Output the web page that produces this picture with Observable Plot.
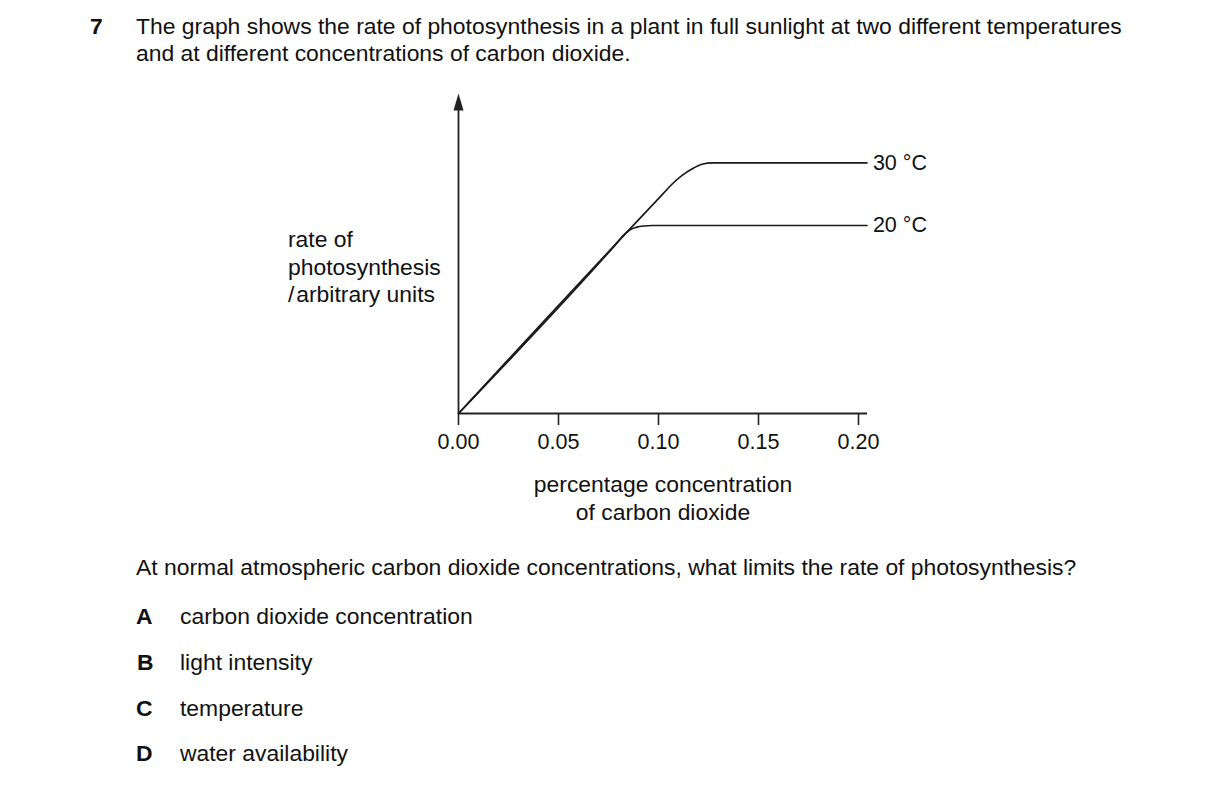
<!DOCTYPE html>
<html>
<head>
<meta charset="utf-8">
<script src="https://cdn.jsdelivr.net/npm/d3@7"></script>
<script src="https://cdn.jsdelivr.net/npm/@observablehq/plot@0.6"></script>
<style>
  html, body { margin: 0; padding: 0; background: #fff; }
  #page { position: relative; width: 1216px; height: 788px; overflow: hidden;
          font-family: "Liberation Sans", Arial, sans-serif; font-size: 22.9px; color: #111; }
  .t { position: absolute; line-height: 28px; white-space: nowrap; }
  .b { font-weight: bold; }
  #chart { position: absolute; left: 0; top: 0; }
</style>
</head>
<body>
<div id="page">
  <div class="t b" style="left:90px; top:12px;">7</div>
  <div class="t" style="left:136px; top:12px;">The graph shows the rate of photosynthesis in a plant in full sunlight at two different temperatures</div>
  <div class="t" style="left:136px; top:39px;">and at different concentrations of carbon dioxide.</div>

  <div id="chart"></div>

  <div class="t" style="left:288px; top:226px; line-height:27.5px;">rate of<br>photosynthesis<br>/&#8202;arbitrary units</div>
  <div class="t" style="left:463px; width:400px; text-align:center; top:470px;">percentage concentration</div>
  <div class="t" style="left:463px; width:400px; text-align:center; top:498px;">of carbon dioxide</div>

  <div class="t" style="left:136px; top:553px;">At normal atmospheric carbon dioxide concentrations, what limits the rate of photosynthesis?</div>

  <div class="t b" style="left:136px; top:602px;">A</div>
  <div class="t" style="left:180px; top:602px;">carbon dioxide concentration</div>
  <div class="t b" style="left:137px; top:648px;">B</div>
  <div class="t" style="left:180px; top:648px;">light intensity</div>
  <div class="t b" style="left:136px; top:694px;">C</div>
  <div class="t" style="left:180px; top:694px;">temperature</div>
  <div class="t b" style="left:136px; top:739px;">D</div>
  <div class="t" style="left:180px; top:739px;">water availability</div>
</div>
<script>
// CO2 concentration (%) and rate (arbitrary units, 0–100 scale)
const co2_20 = [0, 0.078, 0.0835, 0.0858, 0.0888, 0.0925, 0.097, 0.2042];
const rate_20 = [0, 52.4, 56.3, 57.4, 58.15, 58.6, 58.75, 58.75];
const co2_30 = [0, 0.102, 0.107, 0.1118, 0.1167, 0.1218, 0.127, 0.2042];
const rate_30 = [0, 68.5, 71.8, 74.4, 76.4, 77.9, 78.3, 78.3];
const seriesLabels = ["20 °C", "30 °C"];
const xTicks = [0, 0.05, 0.10, 0.15, 0.20];
const xAxisEnd = 0.2045;
const yAxisTop = 100;

const data = [
  ...co2_20.map((x, i) => ({x, y: rate_20[i], s: seriesLabels[0]})),
  ...co2_30.map((x, i) => ({x, y: rate_30[i], s: seriesLabels[1]}))
];
const ends = [
  {x: co2_20[co2_20.length - 1], y: rate_20[rate_20.length - 1], s: seriesLabels[0]},
  {x: co2_30[co2_30.length - 1], y: rate_30[rate_30.length - 1], s: seriesLabels[1]}
];

const arrowHead = {
  draw(context, size) {
    context.moveTo(0, 0);
    context.lineTo(5, 17);
    context.lineTo(-5, 17);
    context.closePath();
  }
};

const chart = Plot.plot({
  width: 1216,
  height: 470,
  marginLeft: 458,
  marginRight: 358,
  marginTop: 93,
  marginBottom: 57,
  style: {fontFamily: "Liberation Sans, Arial, sans-serif", fontSize: "21px", color: "#111", background: "transparent", overflow: "visible"},
  x: {domain: [0, 0.2]},
  y: {domain: [0, 100], axis: null},
  marks: [
    Plot.axisX({ticks: xTicks, tickSize: 12, tickPadding: 8, tickFormat: d3.format(".2f"), label: null, fontSize: 21.5, stroke: "#222", strokeWidth: 1.6, fill: "#111"}),
    Plot.ruleY([0], {x1: 0, x2: xAxisEnd, stroke: "#222", strokeWidth: 1.8}),
    Plot.ruleX([0], {y1: 0, y2: yAxisTop - 4, stroke: "#222", strokeWidth: 1.8}),
    Plot.dot([{x: 0, y: yAxisTop}], {x: "x", y: "y", symbol: arrowHead, fill: "#222", stroke: "none", r: 5}),
    Plot.line(data, {x: "x", y: "y", z: "s", curve: "monotone-x", stroke: "#1a1a1a", strokeWidth: 1.7}),
    Plot.text(ends, {x: "x", y: "y", text: "s", dx: 6, textAnchor: "start", fontSize: 21.5, fill: "#111"})
  ]
});
document.getElementById("chart").appendChild(chart);
</script>
</body>
</html>
